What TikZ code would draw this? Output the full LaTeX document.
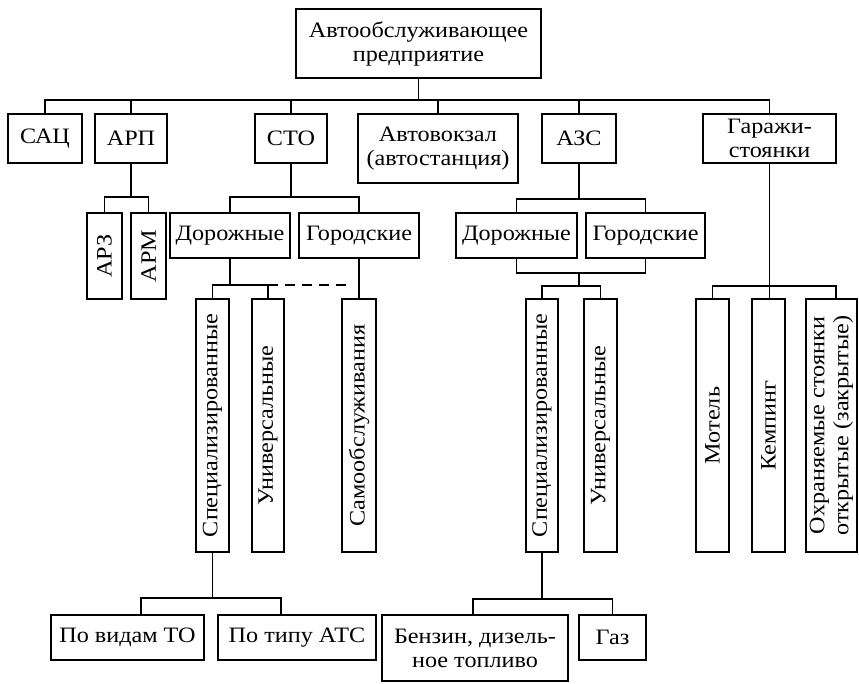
\documentclass[tikz,border=0pt]{standalone}
\usepackage{fontspec}
\setmainfont{Liberation Serif}[FakeStretch=1.1]
\usepackage{graphicx}
\newcommand{\rottext}[1]{\rotatebox{90}{#1}}
\begin{document}
\begin{tikzpicture}[x=1pt,y=-1pt,
 bx/.style={draw, line width=1.4pt, inner sep=0pt, align=center, font=\fontsize{22}{24}\selectfont},
 ln/.style={line width=1.4pt},
 dln/.style={ln, dash pattern=on 10pt off 7pt}]
\fill[white] (0,0) rectangle (859,683);
\useasboundingbox (0,0) rectangle (859,683);
% level 0
\node[bx,minimum width=245pt,minimum height=69pt] (top) at (418.5,43.5) {Автообслуживающее\\предприятие};
% level 1
\node[bx,minimum width=74pt,minimum height=49pt] (sac) at (45,138.5) {САЦ};
\node[bx,minimum width=72pt,minimum height=49pt] (arp) at (131,138.5) {АРП};
\node[bx,minimum width=72pt,minimum height=49pt] (sto) at (291,138.5) {СТО};
\node[bx,minimum width=160pt,minimum height=69pt] (avt) at (438,148.5) {Автовокзал\\(автостанция)};
\node[bx,minimum width=74pt,minimum height=49pt] (azs) at (579,138.5) {АЗС};
\node[bx,minimum width=133pt,minimum height=49pt] (gar) at (769.5,138.5) {Гаражи-\\стоянки};
% ARP children
\node[bx,minimum width=35pt,minimum height=86pt] (arz) at (104.5,256) {\rottext{АРЗ}};
\node[bx,minimum width=35pt,minimum height=86pt] (arm) at (148.5,256) {\rottext{АРМ}};
% STO children
\node[bx,minimum width=120pt,minimum height=45pt] (sdor) at (230,235.5) {Дорожные};
\node[bx,minimum width=120pt,minimum height=45pt] (sgor) at (359,235.5) {Городские};
\node[bx,minimum width=33pt,minimum height=253pt] (sspec) at (212.5,425.5) {\rottext{Специализированные}};
\node[bx,minimum width=32pt,minimum height=253pt] (suniv) at (268,425.5) {\rottext{Универсальные}};
\node[bx,minimum width=34pt,minimum height=253pt] (sself) at (359,425.5) {\rottext{Самообслуживания}};
\node[bx,minimum width=153pt,minimum height=45pt] (vido) at (127.5,637.5) {По видам ТО};
\node[bx,minimum width=158pt,minimum height=45pt] (tipu) at (297,637.5) {По типу АТС};
% AZS children
\node[bx,minimum width=121pt,minimum height=45pt] (adr) at (516.5,235.5) {Дорожные};
\node[bx,minimum width=119pt,minimum height=45pt] (agr) at (645.5,235.5) {Городские};
\node[bx,minimum width=32pt,minimum height=253pt] (aspec) at (542,425.5) {\rottext{Специализированные}};
\node[bx,minimum width=33pt,minimum height=253pt] (auniv) at (600.5,425.5) {\rottext{Универсальные}};
\node[bx,minimum width=186pt,minimum height=66pt] (benz) at (475,648) {Бензин, дизель-\\ное топливо};
\node[bx,minimum width=67pt,minimum height=45pt] (gaz) at (612.5,637.5) {Газ};
% Garage children
\node[bx,minimum width=33pt,minimum height=253pt] (mot) at (712.5,425.5) {\rottext{Мотель}};
\node[bx,minimum width=33pt,minimum height=253pt] (kem) at (768.5,425.5) {\rottext{Кемпинг}};
\node[bx,minimum width=51pt,minimum height=253pt] (ohr) at (831.5,425.5) {\rottext{\begin{tabular}{@{}c@{}}Охраняемые стоянки\\открытые (закрытые)\end{tabular}}};
% connectors
\coordinate (b0) at (0,100);
\draw[ln] (top.south) -- (top.south |- b0);
\draw[ln] (sac.north) |- (gar.north |- b0) -- (gar.north);
\foreach \n in {arp,sto,avt,azs} \draw[ln] (\n.north) -- (\n.north |- b0);
\coordinate (b1) at (0,197);
\draw[ln] (arp.south) -- (arp.south |- b1);
\draw[ln] (arz.north) |- (arm.north |- b1) -- (arm.north);
\draw[ln] (sto.south) -- (sto.south |- b1);
\draw[ln] (sdor.north) |- (sgor.north |- b1) -- (sgor.north);
\coordinate (b2) at (0,285);
\draw[ln] (sdor.south) -- (sdor.south |- b2);
\draw[ln] (sspec.north) |- (suniv.north |- b2) -- (suniv.north);
\draw[dln] (suniv.north |- b2) -- ([xshift=-6pt]sgor.south |- b2);
\draw[ln] (sgor.south) -- (sself.north);
\coordinate (b3) at (0,598);
\draw[ln] (sspec.south) -- (sspec.south |- b3);
\draw[ln] ([xshift=13.5pt]vido.north) |- ([xshift=-16pt]tipu.north |- b3) -- ([xshift=-16pt]tipu.north);
\coordinate (b4) at (0,199);
\draw[ln] (azs.south) -- (azs.south |- b4);
\draw[ln] (adr.north) |- (agr.north |- b4) -- (agr.north);
\coordinate (b5) at (0,273);
\draw[ln] (adr.south) |- (agr.south |- b5) -- (agr.south);
\coordinate (b6) at (0,286);
\draw[ln] (azs.south |- b5) -- (azs.south |- b6);
\draw[ln] (aspec.north) |- (auniv.north |- b6) -- (auniv.north);
\coordinate (b7) at (0,599);
\draw[ln] (aspec.south) -- (aspec.south |- b7);
\draw[ln] ([xshift=-2pt]benz.north) |- (gaz.north |- b7) -- (gaz.north);
\draw[ln] (gar.south) -- (gar.south |- kem.north);
\draw[ln] (mot.north) |- ([xshift=4.5pt]ohr.north |- b6) -- ([xshift=4.5pt]ohr.north);
\end{tikzpicture}
\end{document}
